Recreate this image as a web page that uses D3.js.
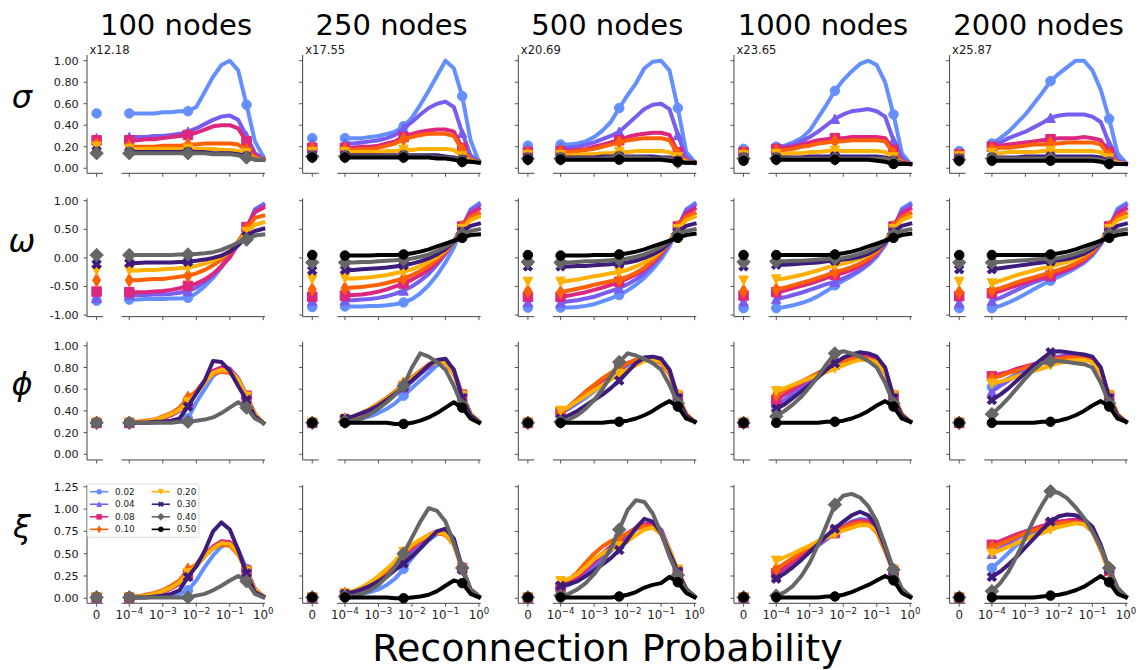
<!DOCTYPE html>
<html>
<head>
<meta charset="utf-8">
<script src="https://cdn.jsdelivr.net/npm/d3@7"></script>
<style>
  html, body { margin: 0; padding: 0; background: #fff; }
  svg { display: block; font-family: "DejaVu Sans", sans-serif; }
</style>
</head>
<body>
<script>
// ---- data -------------------------------------------------------------
const nodeCounts = [100, 250, 500, 1000, 2000];
const probLabels = ["0.02", "0.04", "0.08", "0.10", "0.20", "0.30", "0.40", "0.50"];
const seriesColors = ["#648FFF", "#785EF0", "#DC267F", "#FE6100", "#FFB000", "#3d1c7c", "#666666", "#000000"];
const seriesMarkers = ["o", "^", "s", "d", "v", "X", "D", "o"];
const metricSymbols = ["σ", "ω", "ϕ", "ξ"];
const sigmaScaleLabels = ["x12.18", "x17.55", "x20.69", "x23.65", "x25.87"];
// log10 of the reconnection probabilities sampled on the log axis
const rewireExp = [-4, -3.75, -3.5, -3.25, -3, -2.75, -2.5, -2.25, -2, -1.75, -1.5, -1.25, -1, -0.75, -0.5, -0.25, 0];
const logTickExp = [-4, -3, -2, -1, 0];
const yTicks = [
  [0, 0.2, 0.4, 0.6, 0.8, 1.0],
  [-1, -0.5, 0, 0.5, 1.0],
  [0, 0.2, 0.4, 0.6, 0.8, 1.0],
  [0, 0.25, 0.5, 0.75, 1.0, 1.25]
];
const yDomains = [[-0.047, 1.053], [-1.028, 1.042], [-0.052, 1.038], [-0.056, 1.27]];

// each series: [value at p = 0, then one value per rewireExp entry]
const sigma_100 = [
  [0.51, 0.51,0.51,0.51,0.51,0.52,0.52,0.53,0.53,0.57,0.71,0.85,0.96,1.00,0.91,0.59,0.25,0.11],
  [0.28, 0.29,0.29,0.29,0.30,0.30,0.31,0.32,0.34,0.37,0.41,0.45,0.48,0.49,0.45,0.30,0.14,0.09],
  [0.26, 0.26,0.26,0.27,0.27,0.28,0.29,0.30,0.31,0.33,0.36,0.39,0.40,0.40,0.37,0.25,0.12,0.08],
  [0.22, 0.20,0.20,0.20,0.20,0.21,0.21,0.21,0.22,0.22,0.23,0.23,0.23,0.23,0.22,0.17,0.10,0.08],
  [0.20, 0.18,0.18,0.18,0.18,0.18,0.18,0.18,0.18,0.18,0.18,0.18,0.17,0.17,0.16,0.14,0.09,0.08],
  [0.16, 0.15,0.15,0.15,0.15,0.15,0.15,0.15,0.15,0.15,0.15,0.14,0.14,0.14,0.13,0.11,0.08,0.08],
  [0.14, 0.14,0.14,0.14,0.14,0.14,0.14,0.14,0.14,0.14,0.14,0.13,0.13,0.13,0.12,0.10,0.08,0.08],
  null
];
const sigma_250 = [
  [0.28, 0.28,0.28,0.28,0.29,0.30,0.32,0.34,0.39,0.47,0.59,0.72,0.86,1.00,0.93,0.67,0.26,0.06],
  [0.23, 0.23,0.23,0.24,0.25,0.26,0.28,0.31,0.37,0.43,0.50,0.56,0.60,0.62,0.57,0.33,0.12,0.06],
  [0.19, 0.19,0.19,0.20,0.20,0.21,0.23,0.25,0.29,0.32,0.34,0.35,0.36,0.36,0.34,0.19,0.08,0.06],
  [0.18, 0.17,0.17,0.18,0.18,0.19,0.21,0.23,0.27,0.29,0.31,0.32,0.32,0.32,0.30,0.17,0.08,0.06],
  [0.15, 0.15,0.15,0.15,0.15,0.15,0.16,0.16,0.17,0.17,0.18,0.18,0.18,0.18,0.17,0.11,0.07,0.06],
  [0.12, 0.12,0.12,0.12,0.12,0.12,0.12,0.12,0.12,0.12,0.12,0.12,0.12,0.11,0.10,0.08,0.06,0.06],
  [0.11, 0.11,0.11,0.11,0.11,0.11,0.11,0.11,0.11,0.11,0.11,0.11,0.10,0.10,0.09,0.07,0.06,0.06],
  [0.10, 0.10,0.10,0.10,0.10,0.10,0.10,0.10,0.10,0.10,0.10,0.10,0.09,0.09,0.08,0.06,0.06,0.05]
];
const sigma_500 = [
  [0.21, 0.22,0.22,0.23,0.25,0.29,0.35,0.43,0.56,0.68,0.79,0.93,0.99,1.00,0.91,0.56,0.15,0.06],
  [0.18, 0.19,0.19,0.20,0.22,0.24,0.27,0.30,0.34,0.41,0.48,0.55,0.59,0.60,0.55,0.31,0.10,0.05],
  [0.15, 0.16,0.16,0.17,0.18,0.20,0.22,0.24,0.26,0.29,0.31,0.32,0.33,0.33,0.31,0.15,0.07,0.05],
  [0.14, 0.15,0.15,0.16,0.17,0.18,0.20,0.22,0.24,0.26,0.27,0.28,0.28,0.28,0.26,0.13,0.07,0.05],
  [0.12, 0.12,0.12,0.12,0.13,0.13,0.14,0.14,0.15,0.15,0.16,0.16,0.16,0.16,0.15,0.10,0.06,0.05],
  [0.10, 0.10,0.10,0.10,0.10,0.10,0.11,0.11,0.11,0.11,0.11,0.11,0.11,0.10,0.10,0.07,0.05,0.05],
  [0.09, 0.09,0.09,0.09,0.09,0.09,0.09,0.10,0.10,0.10,0.10,0.10,0.09,0.09,0.09,0.06,0.05,0.05],
  [0.08, 0.08,0.08,0.08,0.08,0.08,0.08,0.08,0.08,0.08,0.08,0.08,0.08,0.08,0.07,0.06,0.05,0.05]
];
const sigma_1000 = [
  [0.18, 0.20,0.21,0.24,0.28,0.35,0.47,0.59,0.72,0.82,0.90,0.97,1.00,0.96,0.80,0.50,0.14,0.04],
  [0.16, 0.19,0.20,0.22,0.25,0.29,0.34,0.40,0.46,0.50,0.53,0.54,0.55,0.53,0.48,0.26,0.10,0.04],
  [0.15, 0.18,0.19,0.20,0.22,0.24,0.26,0.27,0.28,0.28,0.29,0.29,0.29,0.29,0.28,0.17,0.06,0.04],
  [0.14, 0.16,0.17,0.18,0.20,0.21,0.23,0.24,0.25,0.25,0.26,0.26,0.26,0.26,0.25,0.14,0.06,0.04],
  [0.12, 0.13,0.13,0.14,0.14,0.15,0.15,0.16,0.16,0.16,0.16,0.16,0.16,0.16,0.15,0.10,0.05,0.04],
  [0.10, 0.10,0.10,0.10,0.10,0.11,0.11,0.11,0.11,0.11,0.11,0.11,0.11,0.11,0.10,0.07,0.05,0.04],
  [0.09, 0.09,0.09,0.09,0.09,0.09,0.09,0.09,0.09,0.09,0.09,0.09,0.09,0.09,0.09,0.06,0.04,0.04],
  [0.07, 0.08,0.08,0.08,0.08,0.08,0.08,0.08,0.08,0.08,0.08,0.08,0.08,0.07,0.06,0.04,0.04,0.04]
];
const sigma_2000 = [
  [0.16, 0.23,0.28,0.34,0.42,0.50,0.60,0.70,0.81,0.88,0.94,1.00,1.00,0.91,0.73,0.46,0.14,0.05],
  [0.14, 0.21,0.24,0.28,0.31,0.34,0.38,0.42,0.47,0.49,0.50,0.50,0.50,0.48,0.43,0.23,0.08,0.04],
  [0.13, 0.20,0.21,0.22,0.23,0.24,0.25,0.26,0.27,0.28,0.28,0.28,0.29,0.28,0.26,0.15,0.05,0.04],
  [0.12, 0.18,0.19,0.19,0.20,0.21,0.22,0.22,0.23,0.23,0.24,0.24,0.24,0.24,0.22,0.12,0.05,0.04],
  [0.11, 0.14,0.14,0.15,0.15,0.15,0.15,0.16,0.16,0.16,0.16,0.16,0.16,0.16,0.15,0.09,0.05,0.04],
  [0.09, 0.10,0.10,0.10,0.10,0.11,0.11,0.11,0.11,0.11,0.11,0.11,0.11,0.11,0.10,0.06,0.04,0.04],
  [0.08, 0.09,0.09,0.09,0.09,0.09,0.09,0.09,0.09,0.09,0.09,0.09,0.09,0.09,0.08,0.05,0.04,0.04],
  [0.07, 0.07,0.07,0.07,0.07,0.07,0.07,0.07,0.07,0.07,0.07,0.07,0.07,0.07,0.06,0.04,0.04,0.04]
];

const omega_100 = [
  [-0.75, -0.73,-0.73,-0.72,-0.72,-0.72,-0.71,-0.71,-0.70,-0.62,-0.50,-0.35,-0.17,0.05,0.28,0.50,0.85,0.94],
  [-0.70, -0.65,-0.65,-0.65,-0.64,-0.64,-0.63,-0.61,-0.58,-0.52,-0.42,-0.30,-0.14,0.06,0.28,0.50,0.84,0.92],
  [-0.59, -0.60,-0.60,-0.60,-0.59,-0.58,-0.56,-0.53,-0.49,-0.45,-0.38,-0.28,-0.15,0.01,0.24,0.54,0.80,0.88],
  [-0.39, -0.39,-0.39,-0.38,-0.37,-0.37,-0.35,-0.33,-0.31,-0.27,-0.21,-0.13,-0.03,0.10,0.28,0.50,0.70,0.74],
  [-0.22, -0.22,-0.22,-0.21,-0.21,-0.20,-0.19,-0.18,-0.17,-0.14,-0.10,-0.05,0.02,0.12,0.26,0.45,0.58,0.62],
  [-0.11, -0.09,-0.09,-0.08,-0.08,-0.08,-0.08,-0.07,-0.07,-0.05,-0.03,0.00,0.04,0.11,0.22,0.38,0.47,0.51],
  [0.05, 0.05,0.05,0.05,0.05,0.05,0.05,0.06,0.06,0.07,0.08,0.10,0.14,0.20,0.27,0.32,0.39,0.41],
  null
];
const omega_250 = [
  [-0.86, -0.85,-0.85,-0.85,-0.84,-0.84,-0.83,-0.81,-0.78,-0.72,-0.62,-0.48,-0.30,-0.08,0.18,0.52,0.85,0.95],
  [-0.75, -0.74,-0.74,-0.73,-0.72,-0.70,-0.67,-0.63,-0.57,-0.50,-0.40,-0.28,-0.12,0.07,0.28,0.53,0.83,0.92],
  [-0.68, -0.66,-0.65,-0.64,-0.62,-0.59,-0.55,-0.50,-0.45,-0.38,-0.30,-0.20,-0.07,0.09,0.28,0.55,0.78,0.86],
  [-0.55, -0.53,-0.52,-0.51,-0.49,-0.47,-0.44,-0.40,-0.36,-0.30,-0.23,-0.14,-0.03,0.11,0.28,0.54,0.72,0.78],
  [-0.38, -0.36,-0.36,-0.35,-0.34,-0.32,-0.30,-0.27,-0.24,-0.20,-0.14,-0.07,0.02,0.13,0.28,0.50,0.66,0.72],
  [-0.22, -0.21,-0.21,-0.20,-0.19,-0.18,-0.17,-0.15,-0.13,-0.10,-0.06,-0.01,0.06,0.15,0.28,0.46,0.56,0.60],
  [-0.08, -0.08,-0.08,-0.07,-0.07,-0.06,-0.05,-0.04,-0.03,-0.01,0.02,0.06,0.12,0.19,0.29,0.42,0.47,0.50],
  [0.05, 0.04,0.04,0.04,0.04,0.05,0.05,0.05,0.06,0.08,0.11,0.15,0.20,0.25,0.30,0.35,0.40,0.41]
];
const omega_500 = [
  [-0.87, -0.87,-0.87,-0.86,-0.84,-0.81,-0.76,-0.71,-0.65,-0.57,-0.47,-0.35,-0.20,-0.02,0.20,0.52,0.85,0.95],
  [-0.77, -0.78,-0.76,-0.74,-0.71,-0.68,-0.63,-0.58,-0.53,-0.46,-0.38,-0.27,-0.13,0.04,0.26,0.53,0.83,0.92],
  [-0.68, -0.68,-0.66,-0.63,-0.60,-0.56,-0.52,-0.47,-0.42,-0.36,-0.29,-0.20,-0.08,0.07,0.27,0.55,0.78,0.86],
  [-0.58, -0.60,-0.57,-0.54,-0.51,-0.47,-0.44,-0.41,-0.38,-0.33,-0.26,-0.17,-0.05,0.09,0.28,0.54,0.72,0.78],
  [-0.42, -0.42,-0.40,-0.38,-0.35,-0.32,-0.30,-0.27,-0.25,-0.21,-0.15,-0.08,0.01,0.12,0.28,0.50,0.66,0.72],
  [-0.15, -0.15,-0.15,-0.14,-0.14,-0.13,-0.12,-0.11,-0.10,-0.08,-0.05,0.00,0.06,0.14,0.27,0.45,0.56,0.60],
  [-0.07, -0.08,-0.08,-0.07,-0.06,-0.06,-0.05,-0.04,-0.03,-0.01,0.02,0.06,0.12,0.19,0.29,0.42,0.47,0.50],
  [0.05, 0.04,0.04,0.04,0.04,0.05,0.05,0.05,0.06,0.08,0.11,0.15,0.20,0.25,0.30,0.35,0.40,0.42]
];
const omega_1000 = [
  [-0.88, -0.88,-0.86,-0.83,-0.79,-0.74,-0.67,-0.58,-0.48,-0.40,-0.32,-0.23,-0.12,0.02,0.22,0.52,0.86,0.95],
  [-0.76, -0.72,-0.69,-0.65,-0.61,-0.56,-0.51,-0.46,-0.42,-0.36,-0.29,-0.21,-0.10,0.05,0.25,0.52,0.83,0.92],
  [-0.66, -0.60,-0.57,-0.53,-0.49,-0.45,-0.40,-0.35,-0.30,-0.26,-0.21,-0.14,-0.05,0.08,0.27,0.55,0.78,0.86],
  [-0.58, -0.55,-0.52,-0.48,-0.44,-0.40,-0.35,-0.30,-0.25,-0.21,-0.16,-0.10,-0.02,0.10,0.28,0.54,0.72,0.78],
  [-0.40, -0.38,-0.36,-0.33,-0.30,-0.26,-0.22,-0.17,-0.13,-0.10,-0.06,-0.01,0.05,0.14,0.28,0.50,0.66,0.72],
  [-0.15, -0.12,-0.12,-0.11,-0.10,-0.09,-0.08,-0.06,-0.05,-0.03,-0.01,0.02,0.07,0.15,0.27,0.45,0.56,0.60],
  [-0.07, -0.06,-0.06,-0.05,-0.05,-0.04,-0.03,-0.02,-0.01,0.00,0.03,0.07,0.12,0.19,0.29,0.42,0.47,0.50],
  [0.05, 0.05,0.05,0.05,0.05,0.05,0.05,0.05,0.06,0.08,0.11,0.15,0.20,0.25,0.30,0.35,0.40,0.42]
];
const omega_2000 = [
  [-0.88, -0.88,-0.84,-0.78,-0.71,-0.63,-0.55,-0.47,-0.40,-0.33,-0.26,-0.18,-0.09,0.04,0.23,0.52,0.86,0.95],
  [-0.78, -0.75,-0.70,-0.63,-0.56,-0.49,-0.43,-0.38,-0.33,-0.28,-0.22,-0.15,-0.06,0.07,0.26,0.52,0.83,0.92],
  [-0.67, -0.62,-0.58,-0.53,-0.48,-0.43,-0.39,-0.35,-0.31,-0.26,-0.21,-0.14,-0.05,0.08,0.27,0.55,0.78,0.86],
  [-0.60, -0.57,-0.53,-0.48,-0.43,-0.38,-0.34,-0.30,-0.25,-0.21,-0.16,-0.10,-0.02,0.10,0.28,0.54,0.72,0.78],
  [-0.42, -0.45,-0.40,-0.35,-0.30,-0.26,-0.22,-0.18,-0.15,-0.11,-0.07,-0.02,0.05,0.14,0.28,0.50,0.66,0.72],
  [-0.20, -0.20,-0.18,-0.16,-0.14,-0.12,-0.10,-0.08,-0.06,-0.04,-0.02,0.02,0.07,0.15,0.27,0.45,0.56,0.60],
  [-0.08, -0.08,-0.07,-0.06,-0.05,-0.04,-0.03,-0.02,-0.01,0.00,0.03,0.07,0.12,0.19,0.29,0.42,0.47,0.50],
  [0.05, 0.05,0.05,0.05,0.05,0.05,0.05,0.05,0.06,0.08,0.11,0.15,0.20,0.25,0.30,0.35,0.40,0.42]
];

const phi_100 = [
  [0.29, 0.29,0.29,0.29,0.29,0.30,0.30,0.31,0.33,0.48,0.60,0.72,0.78,0.78,0.70,0.53,0.36,0.29],
  [0.29, 0.29,0.29,0.30,0.31,0.33,0.36,0.40,0.47,0.57,0.67,0.76,0.80,0.79,0.70,0.54,0.37,0.29],
  [0.29, 0.29,0.29,0.30,0.31,0.33,0.36,0.41,0.48,0.58,0.68,0.77,0.80,0.78,0.69,0.54,0.37,0.29],
  [0.29, 0.29,0.30,0.31,0.32,0.35,0.38,0.43,0.52,0.58,0.67,0.74,0.76,0.75,0.67,0.52,0.36,0.29],
  [0.29, 0.29,0.29,0.30,0.32,0.34,0.37,0.41,0.48,0.56,0.66,0.75,0.78,0.77,0.69,0.53,0.37,0.29],
  [0.29, 0.29,0.29,0.29,0.30,0.30,0.31,0.33,0.44,0.56,0.68,0.86,0.85,0.77,0.63,0.50,0.35,0.29],
  [0.29, 0.29,0.29,0.29,0.29,0.29,0.29,0.30,0.30,0.31,0.32,0.34,0.38,0.43,0.48,0.43,0.33,0.29],
  null
];
const phi_250 = [
  [0.29, 0.30,0.31,0.33,0.35,0.38,0.42,0.47,0.54,0.61,0.68,0.75,0.82,0.86,0.78,0.55,0.37,0.30],
  [0.29, 0.31,0.33,0.36,0.40,0.44,0.49,0.55,0.61,0.67,0.74,0.80,0.85,0.86,0.76,0.54,0.37,0.30],
  [0.29, 0.32,0.34,0.37,0.41,0.46,0.51,0.57,0.63,0.70,0.76,0.82,0.86,0.86,0.76,0.55,0.37,0.30],
  [0.29, 0.32,0.35,0.38,0.42,0.47,0.52,0.58,0.65,0.71,0.77,0.83,0.86,0.84,0.74,0.54,0.37,0.30],
  [0.29, 0.32,0.34,0.38,0.42,0.46,0.51,0.57,0.63,0.70,0.76,0.82,0.85,0.85,0.75,0.54,0.37,0.30],
  [0.29, 0.33,0.35,0.38,0.41,0.45,0.50,0.56,0.62,0.68,0.75,0.82,0.87,0.88,0.78,0.52,0.36,0.30],
  [0.29, 0.30,0.31,0.33,0.37,0.42,0.48,0.55,0.63,0.80,0.93,0.90,0.85,0.78,0.63,0.45,0.33,0.30],
  [0.29, 0.29,0.29,0.29,0.29,0.29,0.29,0.28,0.28,0.29,0.31,0.34,0.38,0.43,0.48,0.43,0.33,0.29]
];
const phi_500 = [
  [0.29, 0.38,0.42,0.47,0.52,0.58,0.64,0.70,0.76,0.82,0.86,0.89,0.90,0.88,0.78,0.52,0.36,0.30],
  [0.29, 0.38,0.43,0.48,0.54,0.60,0.66,0.72,0.78,0.83,0.87,0.89,0.89,0.87,0.77,0.53,0.36,0.30],
  [0.29, 0.39,0.44,0.50,0.56,0.62,0.68,0.74,0.79,0.84,0.87,0.89,0.89,0.86,0.76,0.54,0.37,0.30],
  [0.29, 0.38,0.44,0.51,0.58,0.64,0.70,0.75,0.80,0.84,0.87,0.88,0.87,0.84,0.74,0.54,0.37,0.30],
  [0.29, 0.40,0.44,0.49,0.54,0.59,0.64,0.69,0.74,0.78,0.82,0.86,0.87,0.86,0.76,0.54,0.37,0.30],
  [0.29, 0.33,0.36,0.40,0.45,0.50,0.55,0.61,0.68,0.76,0.84,0.89,0.90,0.88,0.78,0.52,0.36,0.30],
  [0.29, 0.30,0.32,0.36,0.42,0.50,0.60,0.72,0.85,0.93,0.91,0.88,0.84,0.78,0.64,0.47,0.33,0.30],
  [0.29, 0.29,0.29,0.29,0.29,0.29,0.29,0.30,0.30,0.31,0.33,0.36,0.40,0.45,0.49,0.44,0.33,0.30]
];
const phi_1000 = [
  [0.29, 0.45,0.50,0.56,0.62,0.68,0.74,0.79,0.84,0.88,0.91,0.92,0.92,0.89,0.79,0.52,0.36,0.30],
  [0.29, 0.45,0.50,0.56,0.62,0.68,0.73,0.78,0.83,0.87,0.90,0.91,0.91,0.88,0.78,0.53,0.36,0.30],
  [0.29, 0.50,0.55,0.60,0.65,0.70,0.75,0.79,0.83,0.87,0.90,0.91,0.90,0.87,0.77,0.54,0.37,0.30],
  [0.29, 0.55,0.59,0.63,0.67,0.71,0.75,0.79,0.83,0.86,0.88,0.89,0.88,0.85,0.75,0.54,0.37,0.30],
  [0.29, 0.58,0.61,0.64,0.67,0.70,0.73,0.76,0.79,0.82,0.85,0.87,0.87,0.85,0.76,0.54,0.37,0.30],
  [0.29, 0.42,0.46,0.52,0.58,0.64,0.71,0.78,0.84,0.89,0.92,0.94,0.93,0.90,0.80,0.52,0.36,0.30],
  [0.29, 0.35,0.40,0.46,0.53,0.62,0.72,0.83,0.93,0.95,0.93,0.90,0.86,0.80,0.66,0.47,0.33,0.30],
  [0.29, 0.29,0.29,0.29,0.29,0.29,0.29,0.30,0.30,0.31,0.33,0.36,0.40,0.45,0.49,0.44,0.33,0.30]
];
const phi_2000 = [
  [0.29, 0.62,0.66,0.70,0.74,0.78,0.82,0.85,0.88,0.90,0.91,0.91,0.91,0.89,0.79,0.52,0.36,0.30],
  [0.29, 0.58,0.63,0.68,0.73,0.78,0.82,0.85,0.88,0.90,0.91,0.91,0.90,0.88,0.78,0.53,0.36,0.30],
  [0.29, 0.72,0.74,0.76,0.79,0.81,0.83,0.85,0.87,0.89,0.90,0.90,0.89,0.87,0.77,0.54,0.37,0.30],
  [0.29, 0.70,0.72,0.75,0.77,0.80,0.82,0.84,0.86,0.88,0.89,0.89,0.88,0.85,0.75,0.54,0.37,0.30],
  [0.29, 0.65,0.67,0.69,0.72,0.74,0.77,0.79,0.82,0.84,0.86,0.87,0.87,0.85,0.76,0.54,0.37,0.30],
  [0.29, 0.50,0.55,0.61,0.68,0.75,0.82,0.88,0.94,0.95,0.94,0.93,0.92,0.90,0.80,0.52,0.36,0.30],
  [0.29, 0.37,0.44,0.52,0.61,0.70,0.78,0.84,0.86,0.86,0.85,0.84,0.83,0.80,0.66,0.47,0.33,0.30],
  [0.29, 0.29,0.29,0.29,0.29,0.29,0.29,0.30,0.30,0.31,0.33,0.36,0.40,0.45,0.49,0.44,0.33,0.30]
];

const xi_100 = [
  [0.01, 0.01,0.01,0.02,0.02,0.03,0.04,0.05,0.09,0.20,0.35,0.48,0.58,0.62,0.55,0.33,0.10,0.02],
  [0.01, 0.01,0.02,0.03,0.05,0.07,0.11,0.16,0.25,0.36,0.47,0.56,0.62,0.61,0.51,0.30,0.10,0.02],
  [0.01, 0.01,0.02,0.03,0.05,0.07,0.11,0.17,0.27,0.38,0.49,0.58,0.64,0.63,0.52,0.31,0.10,0.02],
  [0.01, 0.01,0.02,0.04,0.06,0.09,0.14,0.20,0.32,0.38,0.48,0.56,0.60,0.59,0.49,0.30,0.10,0.02],
  [0.01, 0.01,0.02,0.03,0.05,0.08,0.12,0.18,0.28,0.37,0.47,0.56,0.62,0.61,0.50,0.30,0.10,0.02],
  [0.01, 0.01,0.01,0.01,0.02,0.03,0.05,0.09,0.24,0.36,0.53,0.75,0.85,0.77,0.54,0.28,0.07,0.02],
  [0.01, 0.01,0.01,0.01,0.01,0.01,0.01,0.01,0.01,0.03,0.05,0.09,0.14,0.20,0.25,0.19,0.05,0.01],
  null
];
const xi_250 = [
  [0.01, 0.03,0.04,0.05,0.07,0.10,0.15,0.22,0.33,0.45,0.56,0.65,0.72,0.75,0.66,0.35,0.10,0.02],
  [0.01, 0.04,0.06,0.09,0.13,0.18,0.24,0.32,0.42,0.52,0.61,0.69,0.74,0.74,0.64,0.34,0.10,0.02],
  [0.01, 0.05,0.07,0.10,0.15,0.21,0.28,0.37,0.47,0.56,0.64,0.71,0.75,0.74,0.63,0.34,0.10,0.02],
  [0.01, 0.05,0.08,0.12,0.17,0.23,0.31,0.40,0.50,0.58,0.65,0.70,0.73,0.71,0.60,0.33,0.10,0.02],
  [0.01, 0.05,0.08,0.12,0.18,0.25,0.33,0.42,0.52,0.60,0.66,0.71,0.74,0.72,0.61,0.33,0.10,0.02],
  [0.01, 0.05,0.07,0.10,0.14,0.19,0.25,0.32,0.39,0.47,0.56,0.66,0.75,0.78,0.67,0.32,0.09,0.02],
  [0.01, 0.02,0.03,0.05,0.09,0.15,0.24,0.36,0.50,0.68,0.86,1.01,0.98,0.86,0.62,0.34,0.10,0.02],
  [0.01, 0.01,0.01,0.01,0.01,0.01,0.01,0.00,0.00,0.01,0.02,0.04,0.08,0.14,0.20,0.17,0.05,0.01]
];
const xi_500 = [
  [0.01, 0.12,0.15,0.20,0.27,0.35,0.44,0.53,0.62,0.70,0.77,0.82,0.83,0.77,0.55,0.30,0.10,0.02],
  [0.01, 0.12,0.16,0.21,0.28,0.36,0.45,0.54,0.63,0.71,0.78,0.83,0.84,0.77,0.54,0.30,0.10,0.02],
  [0.01, 0.13,0.18,0.24,0.32,0.41,0.50,0.58,0.66,0.73,0.79,0.83,0.83,0.76,0.53,0.30,0.10,0.02],
  [0.01, 0.15,0.21,0.29,0.40,0.50,0.58,0.64,0.68,0.73,0.78,0.81,0.80,0.72,0.52,0.30,0.10,0.02],
  [0.01, 0.19,0.22,0.27,0.35,0.44,0.50,0.55,0.58,0.64,0.71,0.77,0.79,0.73,0.55,0.32,0.10,0.02],
  [0.01, 0.14,0.16,0.19,0.25,0.31,0.38,0.45,0.54,0.66,0.79,0.89,0.86,0.73,0.51,0.30,0.10,0.02],
  [0.01, 0.03,0.05,0.10,0.17,0.27,0.40,0.56,0.77,0.99,1.10,1.08,0.95,0.73,0.47,0.26,0.09,0.02],
  [0.01, 0.01,0.01,0.01,0.01,0.01,0.01,0.01,0.02,0.04,0.07,0.12,0.15,0.17,0.24,0.18,0.06,0.01]
];
const xi_1000 = [
  [0.01, 0.30,0.36,0.42,0.49,0.56,0.63,0.69,0.75,0.81,0.86,0.89,0.88,0.80,0.57,0.30,0.10,0.02],
  [0.01, 0.25,0.31,0.38,0.45,0.52,0.59,0.66,0.73,0.79,0.85,0.88,0.87,0.79,0.56,0.30,0.10,0.02],
  [0.01, 0.28,0.34,0.41,0.48,0.55,0.62,0.68,0.74,0.80,0.85,0.87,0.86,0.77,0.55,0.30,0.10,0.02],
  [0.01, 0.33,0.39,0.45,0.52,0.58,0.64,0.69,0.74,0.79,0.83,0.85,0.83,0.74,0.53,0.30,0.10,0.02],
  [0.01, 0.42,0.46,0.50,0.55,0.59,0.64,0.68,0.72,0.76,0.79,0.82,0.82,0.76,0.56,0.32,0.10,0.02],
  [0.01, 0.22,0.28,0.35,0.43,0.52,0.61,0.70,0.78,0.86,0.93,0.97,0.93,0.80,0.57,0.30,0.10,0.02],
  [0.01, 0.03,0.07,0.14,0.25,0.40,0.60,0.82,1.05,1.15,1.17,1.13,1.03,0.86,0.60,0.32,0.10,0.02],
  [0.01, 0.01,0.01,0.01,0.01,0.01,0.01,0.02,0.02,0.04,0.07,0.11,0.15,0.20,0.25,0.20,0.06,0.01]
];
const xi_2000 = [
  [0.01, 0.34,0.42,0.51,0.60,0.67,0.73,0.78,0.82,0.85,0.87,0.88,0.87,0.80,0.58,0.31,0.10,0.02],
  [0.01, 0.50,0.56,0.62,0.67,0.72,0.76,0.79,0.82,0.85,0.87,0.88,0.87,0.80,0.58,0.31,0.10,0.02],
  [0.01, 0.60,0.64,0.68,0.72,0.75,0.78,0.81,0.84,0.86,0.87,0.88,0.86,0.78,0.56,0.31,0.10,0.02],
  [0.01, 0.57,0.61,0.65,0.69,0.73,0.76,0.79,0.82,0.84,0.85,0.85,0.83,0.75,0.54,0.30,0.10,0.02],
  [0.01, 0.50,0.54,0.58,0.62,0.66,0.70,0.73,0.77,0.80,0.82,0.84,0.83,0.76,0.56,0.32,0.10,0.02],
  [0.01, 0.24,0.30,0.38,0.47,0.57,0.67,0.77,0.86,0.92,0.94,0.93,0.89,0.80,0.60,0.32,0.10,0.02],
  [0.01, 0.08,0.17,0.30,0.48,0.68,0.88,1.05,1.20,1.18,1.12,1.02,0.90,0.75,0.57,0.34,0.12,0.02],
  [0.01, 0.01,0.01,0.01,0.01,0.01,0.01,0.02,0.03,0.04,0.06,0.09,0.13,0.19,0.25,0.18,0.05,0.01]
];

const metricData = [
  [sigma_100, sigma_250, sigma_500, sigma_1000, sigma_2000],
  [omega_100, omega_250, omega_500, omega_1000, omega_2000],
  [phi_100, phi_250, phi_500, phi_1000, phi_2000],
  [xi_100, xi_250, xi_500, xi_1000, xi_2000]
];

// ---- layout -----------------------------------------------------------
const W = 1147, H = 670;
const colStep = 215.65, firstSpineX = 87;
const rowStep = 143.33, firstRowTop = 55, rowHeight = 118.3;
const markEvery = 7;
const lineWidth = 4, markerSize = 9.5;
const spineColor = "#444", textColor = "#1a1a1a";

const svg = d3.select("body").append("svg")
  .attr("width", W).attr("height", H)
  .attr("viewBox", `0 0 ${W} ${H}`);

function markerPath(kind, s) {
  const h = s / 2;
  switch (kind) {
    case "o": return d3.symbol(d3.symbolCircle, Math.PI * h * h)();
    case "s": return `M${-h},${-h}H${h}V${h}H${-h}Z`;
    case "^": return `M0,${-h}L${h},${h}L${-h},${h}Z`;
    case "v": return `M0,${h}L${h},${-h}L${-h},${-h}Z`;
    case "D": { const d = s * Math.SQRT1_2; return `M0,${-d}L${d},0L0,${d}L${-d},0Z`; }
    case "d": { const d = s * Math.SQRT1_2, w = d * 0.6; return `M0,${-d}L${w},0L0,${d}L${-w},0Z`; }
    case "X": {
      const pts = [[-1,-2],[0,-1],[1,-2],[2,-1],[1,0],[2,1],[1,2],[0,1],[-1,2],[-2,1],[-1,0],[-2,-1]];
      return "M" + pts.map(p => `${p[0] * s / 4},${p[1] * s / 4}`).join("L") + "Z";
    }
  }
  return "";
}

function fmtTick(v) { return v.toFixed(2); }

for (let r = 0; r < 4; r++) {
  const top = firstRowTop + r * rowStep;
  const bottom = top + rowHeight;
  const y = d3.scaleLinear().domain(yDomains[r]).range([bottom, top]);

  for (let c = 0; c < 5; c++) {
    const x0 = firstSpineX + c * colStep;
    const xZero = d3.scaleLinear().domain([-0.6, 0.4]).range([x0, x0 + 16]);
    const xLog = d3.scaleLog().domain([1e-4, 1]).range([x0 + 42.3, x0 + 176.3]);
    const logLeft = x0 + 34.7, logRight = x0 + 178;
    const g = svg.append("g");

    // spines
    g.append("line").attr("x1", x0).attr("x2", x0).attr("y1", top).attr("y2", bottom)
      .attr("stroke", spineColor).attr("stroke-width", 1);
    g.append("line").attr("x1", x0).attr("x2", x0 + 16).attr("y1", bottom).attr("y2", bottom)
      .attr("stroke", spineColor).attr("stroke-width", 1);
    g.append("line").attr("x1", logLeft).attr("x2", logRight).attr("y1", bottom).attr("y2", bottom)
      .attr("stroke", spineColor).attr("stroke-width", 1);

    // y ticks
    yTicks[r].forEach(t => {
      const yy = y(t);
      g.append("line").attr("x1", x0 - 3.5).attr("x2", x0).attr("y1", yy).attr("y2", yy)
        .attr("stroke", spineColor).attr("stroke-width", 0.9);
      if (c === 0) {
        g.append("text").attr("x", x0 - 8.3).attr("y", yy).attr("dy", "0.36em")
          .attr("text-anchor", "end").attr("font-size", 11.2).attr("fill", textColor)
          .text(fmtTick(t));
      }
    });

    // x ticks
    const xtickPos = [xZero(0)].concat(logTickExp.map(e => xLog(Math.pow(10, e))));
    xtickPos.forEach(xx => {
      g.append("line").attr("x1", xx).attr("x2", xx).attr("y1", bottom).attr("y2", bottom + 3.5)
        .attr("stroke", spineColor).attr("stroke-width", 0.9);
    });
    if (r === 3) {
      g.append("text").attr("x", xZero(0)).attr("y", bottom + 15.5)
        .attr("text-anchor", "middle").attr("font-size", 11.8).attr("fill", textColor).text("0");
      logTickExp.forEach(e => {
        const t = g.append("text").attr("x", xLog(Math.pow(10, e))).attr("y", bottom + 15.5)
          .attr("text-anchor", "middle").attr("font-size", 11.8).attr("fill", textColor);
        t.append("tspan").text("10");
        t.append("tspan").attr("dy", -5).attr("font-size", 8.6)
          .text(e < 0 ? "\u2212" + Math.abs(e) : String(e));
      });
    }

    // series
    const data = metricData[r][c];
    data.forEach((s, i) => {
      if (!s) return;
      const color = seriesColors[i];
      const mk = markerPath(seriesMarkers[i], markerSize);
      // value at p = 0
      g.append("path").attr("d", mk)
        .attr("transform", `translate(${xZero(0)},${y(s[0])})`)
        .attr("fill", color).attr("stroke", color).attr("stroke-width", 1);
      // log-axis curve
      const pts = rewireExp.map((e, k) => [Math.pow(10, e), s[k + 1]]);
      const line = d3.line().x(d => xLog(d[0])).y(d => y(d[1]));
      g.append("path").attr("d", line(pts))
        .attr("fill", "none").attr("stroke", color).attr("stroke-width", lineWidth)
        .attr("stroke-linejoin", "round").attr("stroke-linecap", "square");
      pts.forEach((d, k) => {
        if (k % markEvery !== 0) return;
        g.append("path").attr("d", mk)
          .attr("transform", `translate(${xLog(d[0])},${y(d[1])})`)
          .attr("fill", color).attr("stroke", color).attr("stroke-width", 1);
      });
    });

    // scale factor note on the sigma row
    if (r === 0) {
      g.append("text").attr("x", x0 + 2.5).attr("y", top - 0.8)
        .attr("font-size", 11.6).attr("fill", textColor).text(sigmaScaleLabels[c]);
      // column title
      svg.append("text").attr("x", x0 + 89).attr("y", 35)
        .attr("text-anchor", "middle").attr("font-size", 29).attr("fill", "#000")
        .text(`${nodeCounts[c]} nodes`);
    }
  }

  // row symbol
  svg.append("text").attr("x", 22).attr("y", top + 53.3)
    .attr("text-anchor", "middle").attr("font-size", 32).attr("font-style", "italic")
    .attr("fill", "#000").text(metricSymbols[r]);
}

// legend in the bottom-left panel
(function drawLegend() {
  const lx = 87.3, ly = 484, lw = 111.7, lh = 53.3;
  const lg = svg.append("g");
  lg.append("rect").attr("x", lx).attr("y", ly).attr("width", lw).attr("height", lh)
    .attr("rx", 2).attr("fill", "#fff").attr("fill-opacity", 0.85)
    .attr("stroke", "#d0d0d0").attr("stroke-width", 0.8);
  probLabels.forEach((lab, i) => {
    const col = Math.floor(i / 4), row = i % 4;
    const hx = lx + 2.7 + col * 61.7;
    const yy = ly + 7.7 + row * 12.55;
    lg.append("line").attr("x1", hx).attr("x2", hx + 18.3).attr("y1", yy).attr("y2", yy)
      .attr("stroke", seriesColors[i]).attr("stroke-width", 1.6);
    lg.append("path").attr("d", markerPath(seriesMarkers[i], 5))
      .attr("transform", `translate(${hx + 9.2},${yy})`)
      .attr("fill", seriesColors[i]).attr("stroke", seriesColors[i]).attr("stroke-width", 0.6);
    lg.append("text").attr("x", hx + 25).attr("y", yy).attr("dy", "0.35em")
      .attr("font-size", 8.8).attr("fill", textColor).text(lab);
  });
})();

// shared x-axis title
svg.append("text").attr("x", 607.5).attr("y", 661)
  .attr("text-anchor", "middle").attr("font-size", 38).attr("fill", "#000")
  .text("Reconnection Probability");
</script>
</body>
</html>
